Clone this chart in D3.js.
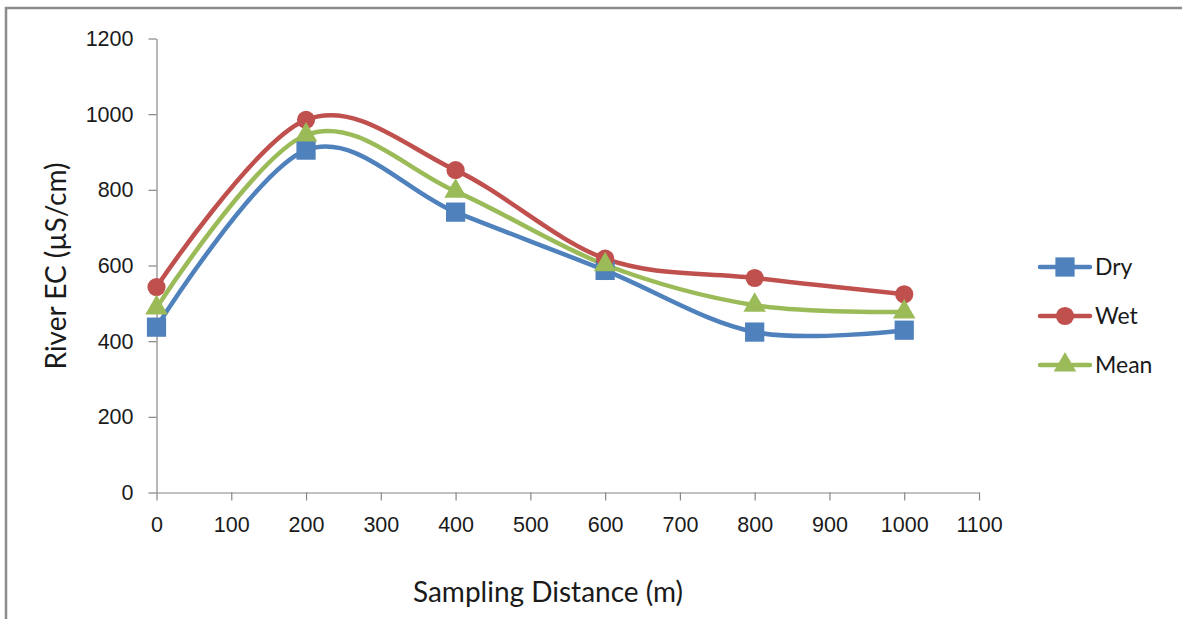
<!DOCTYPE html>
<html>
<head>
<meta charset="utf-8">
<script src="https://cdn.jsdelivr.net/npm/d3@7/dist/d3.min.js"></script>
<style>
  html, body { margin: 0; padding: 0; background: #fff; }
  svg { display: block; font-family: Lato, "Open Sans", sans-serif; }
</style>
</head>
<body>
<svg id="chart" width="1182" height="619"></svg>
<script>
// Sampling distances (m) and river EC readings (µS/cm)
const distances = [0, 200, 400, 600, 800, 1000];
const dryEC  = [437, 905, 741, 587, 424, 429];
const wetEC  = [543, 985, 852, 618, 567, 524];
const meanEC = [488, 945, 796, 602, 495, 477];

const xTicks = [0, 100, 200, 300, 400, 500, 600, 700, 800, 900, 1000, 1100];
const yTicks = [0, 200, 400, 600, 800, 1000, 1200];

const seriesNames = ["Dry", "Wet", "Mean"];
const seriesColors = ["#4F81BD", "#C0504D", "#9BBB59"];
const seriesShapes = [d3.symbolSquare, d3.symbolCircle, d3.symbolTriangle];
const seriesValues = [dryEC, wetEC, meanEC];
const symbolSizes = [370, 260, 220];

const svg = d3.select("#chart");
const axisColor = "#868686";
const textColor = "#1a1a1a";

// outer frame
svg.append("path")
  .attr("d", "M6,619 V8 H1182")
  .attr("fill", "none")
  .attr("stroke", "#8c8c8c")
  .attr("stroke-width", 2.5);

const x = d3.scaleLinear().domain([0, 1100]).range([156.5, 979]);
const y = d3.scaleLinear().domain([0, 1200]).range([492.5, 38.5]);

// x axis
const xAxis = svg.append("g")
  .attr("transform", `translate(0,${y(0)})`)
  .call(d3.axisBottom(x).tickValues(xTicks).tickFormat(d3.format("d"))
    .tickSize(8).tickPadding(16).tickSizeOuter(0));
xAxis.select(".domain").attr("stroke", axisColor).attr("stroke-width", 1.2);
xAxis.selectAll(".tick line").attr("stroke", axisColor).attr("stroke-width", 1.2);
xAxis.selectAll(".tick text").attr("fill", textColor).attr("font-size", 21.5);

// y axis
const yAxis = svg.append("g")
  .attr("transform", `translate(${x(0)},0)`)
  .call(d3.axisLeft(y).tickValues(yTicks).tickFormat(d3.format("d"))
    .tickSize(8).tickPadding(15).tickSizeOuter(0));
yAxis.select(".domain").attr("stroke", axisColor).attr("stroke-width", 1.2);
yAxis.selectAll(".tick line").attr("stroke", axisColor).attr("stroke-width", 1.2);
yAxis.selectAll(".tick text").attr("fill", textColor).attr("font-size", 21.5);

// axis titles
svg.append("text")
  .attr("x", 548).attr("y", 602)
  .attr("text-anchor", "middle")
  .attr("font-size", 28)
  .attr("fill", textColor)
  .text("Sampling Distance (m)");

svg.append("text")
  .attr("transform", "translate(66,266) rotate(-90)")
  .attr("text-anchor", "middle")
  .attr("font-size", 28)
  .attr("fill", textColor)
  .text("River EC (µS/cm)");

// smoothed series lines with markers
const line = d3.line()
  .x((d, i) => x(distances[i]))
  .y(d => y(d))
  .curve(d3.curveCardinal.tension(0));

seriesValues.forEach((vals, s) => {
  svg.append("path")
    .datum(vals)
    .attr("d", line)
    .attr("fill", "none")
    .attr("stroke", seriesColors[s])
    .attr("stroke-width", 4.5)
    .attr("stroke-linejoin", "round");
});

seriesValues.forEach((vals, s) => {
  svg.append("g").selectAll("path")
    .data(vals)
    .join("path")
    .attr("transform", (d, i) => `translate(${x(distances[i])},${y(d)})`)
    .attr("d", d3.symbol().type(seriesShapes[s]).size(symbolSizes[s]))
    .attr("fill", seriesColors[s]);
});

// legend
const legend = svg.append("g");
seriesNames.forEach((name, s) => {
  const ly = 267 + s * 49;
  legend.append("line")
    .attr("x1", 1040).attr("x2", 1090)
    .attr("y1", ly).attr("y2", ly)
    .attr("stroke", seriesColors[s])
    .attr("stroke-width", 4.5)
    .attr("stroke-linecap", "round");
  legend.append("path")
    .attr("transform", `translate(1065,${ly})`)
    .attr("d", d3.symbol().type(seriesShapes[s]).size(symbolSizes[s]))
    .attr("fill", seriesColors[s]);
  legend.append("text")
    .attr("x", 1095).attr("y", ly + 8)
    .attr("font-size", 23)
    .attr("fill", textColor)
    .text(name);
});
</script>
</body>
</html>
